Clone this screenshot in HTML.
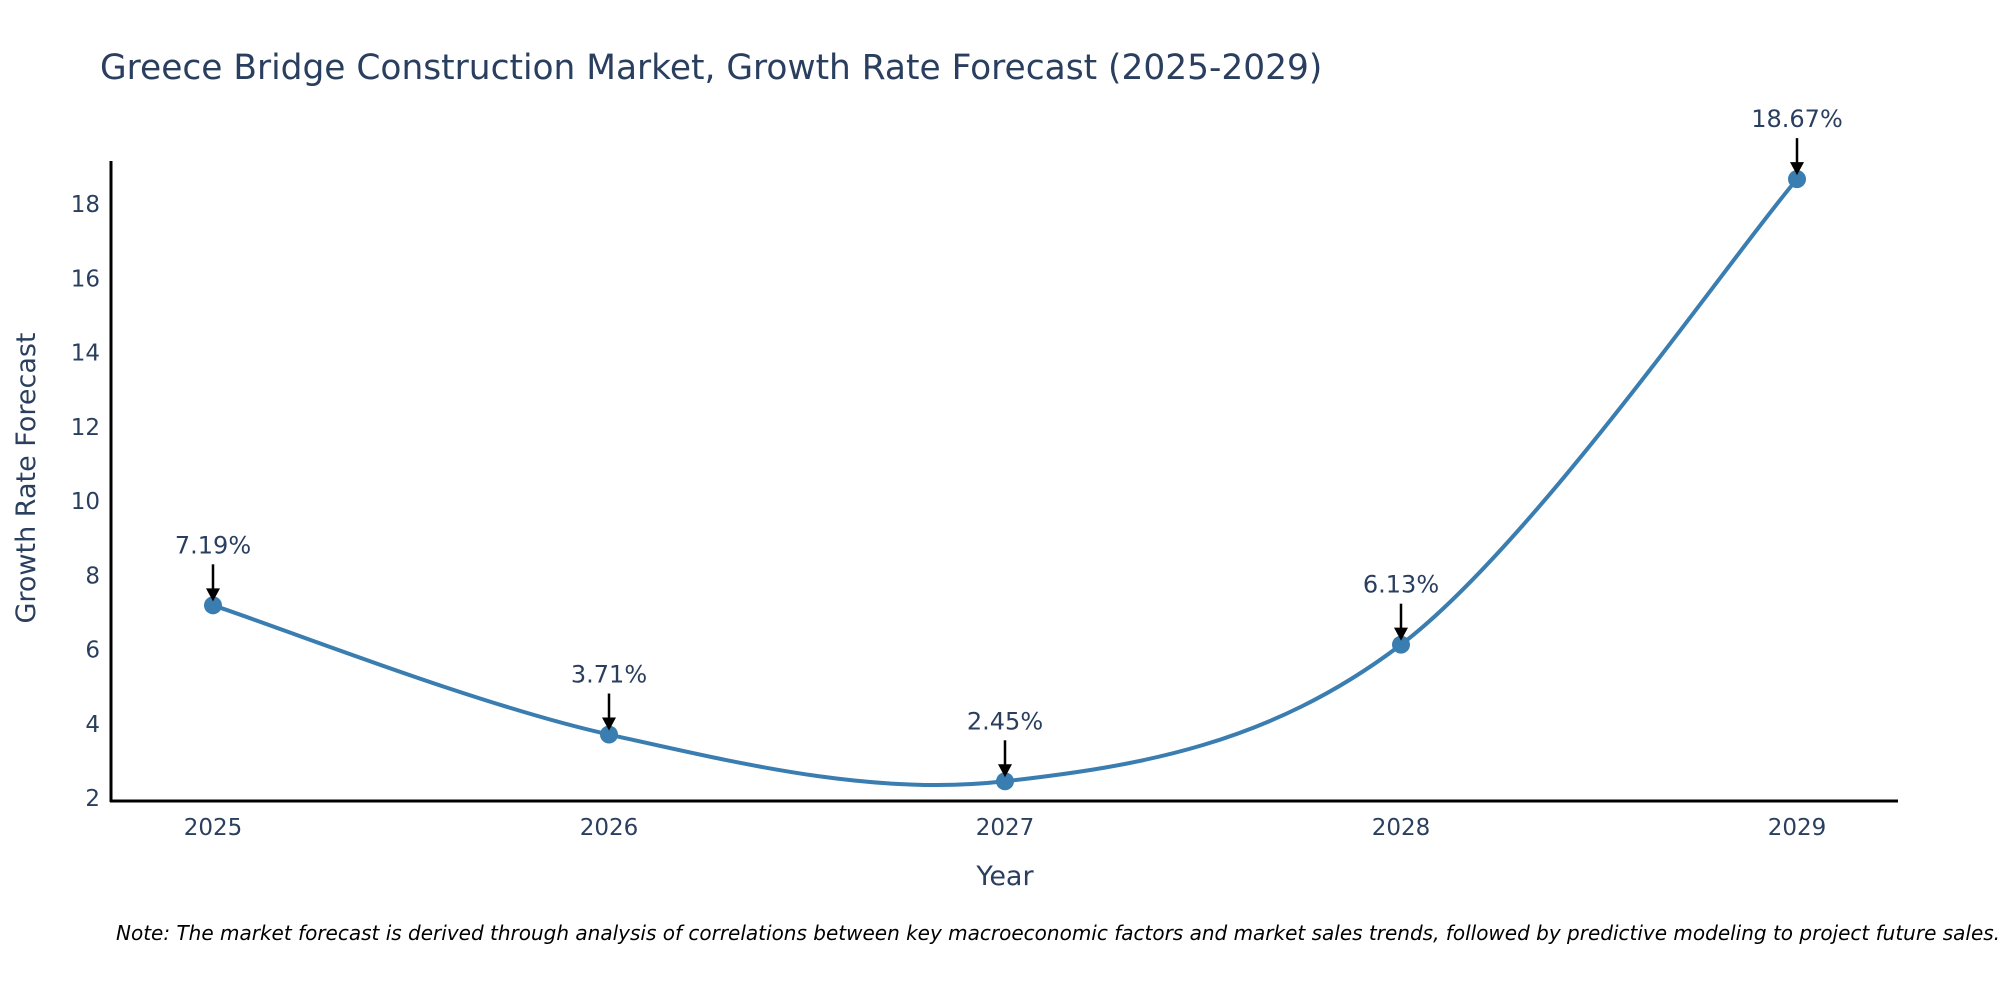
<!DOCTYPE html>
<html><head><meta charset="utf-8"><style>
body{margin:0;background:#fff;}
svg text{font-family:"DejaVu Sans","Liberation Sans",sans-serif;fill:#2a3f5f;}
</style></head><body>
<svg id="chart" width="2000" height="1000" xmlns="http://www.w3.org/2000/svg">
<text x="100" y="79" font-size="34.4">Greece Bridge Construction Market, Growth Rate Forecast (2025-2029)</text>
<g id="axes"></g>
<g id="plot"></g>
<text x="1005" y="885" font-size="27" text-anchor="middle">Year</text>
<text transform="translate(35,478) rotate(-90)" font-size="27" text-anchor="middle">Growth Rate Forecast</text>
<text x="116" y="940" font-size="20" font-style="italic" style="fill:#000">Note: The market forecast is derived through analysis of correlations between key macroeconomic factors and market sales trends, followed by predictive modeling to project future sales.</text>
</svg>
<script>
const years=[2025,2026,2027,2028,2029];
const growth=[7.19,3.71,2.45,6.13,18.67];
const labels=["7.19%","3.71%","2.45%","6.13%","18.67%"];
const yTicks=[2,4,6,8,10,12,14,16,18];
const NS="http://www.w3.org/2000/svg";
const X=v=>213+(v-2025)*396;
const Y=v=>798-(v-2)*37.125;
function mk(t,a,p){const e=document.createElementNS(NS,t);for(const k in a)e.setAttribute(k,a[k]);p.appendChild(e);return e;}
const ax=document.getElementById('axes'),pl=document.getElementById('plot');
const yl=mk('line',{x1:111,y1:161,x2:111,y2:802,stroke:'#000','stroke-width':3},ax);


const xl=mk('line',{x1:110,y1:801,x2:1898,y2:801,stroke:'#000','stroke-width':3},ax);


yTicks.forEach(t=>{const e=mk('text',{x:100,y:Y(t)+8,'font-size':23,'text-anchor':'end'},ax);e.textContent=t;

});
years.forEach(y=>{const e=mk('text',{x:X(y),y:835,'font-size':23,'text-anchor':'middle'},ax);e.textContent=y;

});
const pts=years.map((y,i)=>[X(y),Y(growth[i])]);
let d=`M${pts[0][0]},${pts[0][1]}`;
for(let i=0;i<pts.length-1;i++){const p0=pts[i-1]||pts[i],p1=pts[i],p2=pts[i+1],p3=pts[i+2]||p2;const s=6;
d+=` C${p1[0]+(p2[0]-p0[0])/s},${p1[1]+(p2[1]-p0[1])/s} ${p2[0]-(p3[0]-p1[0])/s},${p2[1]-(p3[1]-p1[1])/s} ${p2[0]},${p2[1]}`;}
const ln=mk('path',{d:d,fill:'none',stroke:'#3a7db0','stroke-width':4},pl);


pts.forEach((p,i)=>{const c=mk('circle',{cx:p[0],cy:p[1],r:9,fill:'#3a7db0'},pl);


const a=mk('line',{x1:p[0],y1:p[1]-41,x2:p[0],y2:p[1]-14,stroke:'#000','stroke-width':2.5},pl);


const h=mk('polygon',{points:`${p[0]-7},${p[1]-17} ${p[0]+7},${p[1]-17} ${p[0]},${p[1]-4}`,fill:'#000'},pl);


const t=mk('text',{x:p[0],y:p[1]-52,'font-size':24,'text-anchor':'middle'},pl);t.textContent=labels[i];

});
</script>
</body></html>
